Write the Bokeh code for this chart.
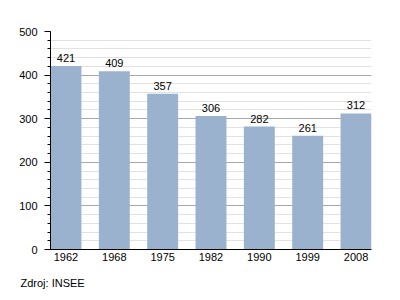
from bokeh.plotting import figure
from bokeh.models import ColumnDataSource, Range1d, SingleIntervalTicker, FixedTicker, Title
from bokeh.core.properties import value
from bokeh.embed import file_html
from bokeh.resources import INLINE

years = ["1962", "1968", "1975", "1982", "1990", "1999", "2008"]
population = [421, 409, 357, 306, 282, 261, 312]
source_note = "Zdroj: INSEE"

FONT = "Liberation Sans"
xs = list(range(len(years)))
src = ColumnDataSource(dict(x=xs, top=population, label=[str(v) for v in population]))

x0, x1 = -0.32, len(years) - 1 + 0.32

p = figure(width=400, height=300, output_backend="svg", toolbar_location=None,
           x_range=Range1d(x0, x1), y_range=Range1d(0, 500),
           min_border_left=50, min_border_right=29, min_border_top=31, min_border_bottom=0)
p.outline_line_color = None
p.background_fill_color = "white"
p.border_fill_color = "white"

p.vbar(x="x", top="top", width=0.64, bottom=0, source=src,
       fill_color="#9ab2ce", line_color=None)
p.text(x="x", y="top", text="label", source=src, text_align="center",
       text_baseline="bottom", y_offset=-4, text_font=value(FONT),
       text_font_size="11px", text_color="black")

p.xgrid.visible = False
p.ygrid.grid_line_color = "#a8a8a8"
p.ygrid.minor_grid_line_color = "#e2e2e2"

p.yaxis.ticker = SingleIntervalTicker(interval=100, num_minor_ticks=5)
p.yaxis.axis_line_color = "black"
p.yaxis.major_tick_out = 6
p.yaxis.major_tick_in = 0
p.yaxis.minor_tick_out = 3
p.yaxis.minor_tick_in = 0
p.yaxis.major_label_standoff = 7
p.yaxis.major_label_text_font = FONT
p.yaxis.major_label_text_font_size = "11px"
p.yaxis.major_label_text_color = "black"

p.xaxis.ticker = FixedTicker(ticks=xs)
p.xaxis.major_label_overrides = {i: y for i, y in enumerate(years)}
p.xaxis.axis_line_color = "black"
p.xaxis.major_tick_out = 0
p.xaxis.major_tick_in = 0
p.xaxis.minor_tick_out = 0
p.xaxis.minor_tick_in = 0
p.xaxis.major_label_standoff = 3
p.xaxis.major_label_text_font = FONT
p.xaxis.major_label_text_font_size = "11px"
p.xaxis.major_label_text_color = "black"

note = Title(text=source_note, align="left", offset=-30, standoff=23,
             vertical_align="bottom", text_line_height=1.0,
             text_font=FONT, text_font_size="11px", text_font_style="normal",
             text_color="black")
p.add_layout(note, "below")

open("out.html", "w").write(file_html(p, INLINE))
